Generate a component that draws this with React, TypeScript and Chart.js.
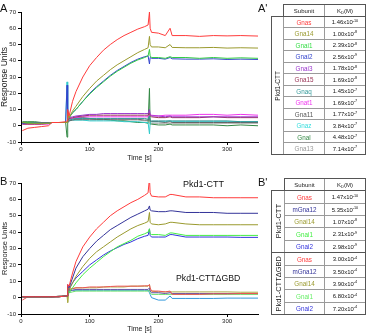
import React, { useEffect, useRef } from "react";
import { Chart, registerables } from "chart.js";
Chart.register(...registerables);

const FONT = "'Liberation Sans', Arial, Helvetica, sans-serif";

// shared time base (s)
const TIME = [2, 10, 20, 30, 40, 45, 55, 65, 67, 68, 70, 75, 80, 90, 100, 110, 120, 130, 140, 150, 160, 170, 180, 185, 187, 188, 190, 200, 210, 217, 220, 240, 260, 280, 300, 320, 345];

// Panel A series (Response Units)
const A_GNAS = [-3, -1.5, -1, -0.5, 0, 2, 2, 2.5, 3, 10, 6, 15, 21, 30, 37, 42, 46.5, 50, 53, 55.5, 57.5, 59.5, 61, 62, 70, 60, 57.5, 57, 55.5, 60, 55.5, 55.5, 55, 55.5, 55.3, 55.5, 55.2];
const A_GNA14 = [2, 1.5, 1.5, 1.5, 1.5, 2, 2, 2, 2, 8, 5, 9, 12, 18, 23, 27.5, 31, 34.5, 37.5, 40, 42.5, 45, 47, 48, 55, 50, 48.5, 48.5, 48, 50, 48.2, 48, 48, 48.2, 47.8, 48, 47.8];
const A_GNAI1 = [2, 2, 1.5, 1.5, 1.5, 2, 2, 2, 2, 6, 5, 8, 10, 15, 19.5, 23.5, 27, 30.5, 33.5, 36, 38.5, 40.5, 42, 43, 47, 43, 42, 42, 41.5, 42.5, 42, 42, 41.5, 42, 41.5, 41.8, 41.5];
const A_GNAI2 = [1.5, 1.5, 1.5, 1.5, 1.5, 2, 2, 2, 25, 7, 5, 8, 10, 15, 20, 24, 27.5, 31, 34, 36.5, 39, 41, 42.5, 43, 38, 42, 41.5, 41.5, 41, 42, 41.2, 41, 41, 41.2, 40.8, 41, 40.8];
const A_GNAI3 = [1.5, 1.5, 1.5, 1.5, 1.5, 2, 2, 2, 2, 4, 5, 5.5, 6, 6.5, 7, 7, 7.5, 7.5, 7.5, 7.5, 7.5, 7.5, 7.5, 7.5, 10, 7, 6, 6, 5.5, 6, 5.5, 5.5, 5.5, 5.5, 5.5, 5.5, 5.5];
const A_GNA15 = [1, 1, 1, 1, 1.5, 2, 2, 2, 2, 3, 4.5, 5, 5.5, 6, 6.5, 6.5, 6.5, 6.5, 6.5, 6.5, 6.5, 6.5, 6.5, 6.5, 8, 6, 5.5, 5, 5, 5.5, 5, 5, 5, 5.5, 5, 5, 5];
const A_GNAT1 = [1, 1, 1, 1, 1, 2, 2, 2, 2, 3, 4, 4.5, 5, 5.5, 5.5, 5.5, 5.5, 5.5, 5.5, 5.5, 5.5, 5.5, 5.5, 5.5, 7, 7, 6.5, 6, 6.5, 6.5, 6.5, 6.5, 7, 7, 6.5, 7, 6.5];
const A_GNAQ = [2, 2, 2, 1.5, 1.5, 2, 2, 2, 2, 3, 3.5, 4, 4.5, 4.5, 4.5, 4.5, 4.5, 4.5, 4.5, 4.5, 4.5, 4.5, 4.5, 4, 6, 3, 3, 3, 3, 3, 3, 3, 3, 3, 3, 2.5, 2.5];
const A_GNA11 = [2, 2, 2, 2, 2, 2, 2, 2, 2, 2, 3, 3.5, 4, 4, 4, 4, 4, 4, 4, 4, 4, 4, 3.5, 3.5, 5, 3, 2.5, 2.5, 2, 2.5, 2, 2, 2, 2, 2, 2, 2];
const A_GNAZ = [1.5, 1.5, 1.5, 1.5, 1.5, 2, 2, 2, 27, 3, 3, 3.5, 3.5, 3.5, 3, 3, 3, 3, 3, 2.5, 2.5, 2.5, 2, 2, -5, 2, 2.5, 2.5, 2.5, 3, 2.5, 2.5, 2.5, 2.5, 2.5, 2.5, 2.5];
const A_GNAL = [2.5, 2.5, 2.5, 2, 2, 2, 2, 2, -7, 5, 4, 4.5, 5, 5, 4.5, 4, 4, 3.5, 3, 3, 2.5, 2, 2, 1.5, 23, 1, 1, 0.5, 0.5, 1, 0.5, 0.5, 0.5, 0.5, 0, 0.5, 0];
const A_GNA13 = [2, 2, 2, 2, 2, 2, 2, 2, 2, 3, 3, 3.5, 3.5, 3.5, 3.5, 3.5, 3.5, 3.5, 3.5, 3.5, 3.5, 3.5, 3, 3, 4, 2, 1.5, 1.5, 1.5, 1.5, 1.5, 1.5, 1.5, 1.5, 1.5, 1.5, 1.5];

// Panel B series: Pkd1-CTT
const B_GNAS = [0.5, 0.5, 0.5, 0.5, 0.5, 0.5, 0.5, 1, 1, 8, 7, 15, 22, 31, 37, 42, 46, 50, 53, 55.5, 58, 60, 62.5, 64, 73, 64, 62, 61.5, 61.5, 63, 63, 61.5, 61.5, 61, 61, 61, 61];
const B_MGNA12 = [0.5, 0.5, 0.5, 0.5, 0.5, 0.5, 0.5, 1, 1, 7, 6, 12, 18, 25, 30, 34.5, 38, 41.5, 44, 46.5, 49, 51, 53, 54, 56, 53.5, 53, 52.5, 52.5, 53, 53, 52, 52, 52, 51.5, 51.5, 51.5];
const B_GNAI14 = [0.5, 0.5, 0.5, 0.5, 0.5, 0.5, 0.5, 1, 1, 6, 5, 9, 13, 19, 24, 28, 31, 34, 37, 39.5, 42, 44, 45.5, 46.5, 52, 46, 45, 44.5, 45, 46, 46, 45, 44.5, 44.5, 44.5, 44.5, 44.5];
const B_GNAI1 = [0.5, 0.5, 0.5, 0.5, 0.5, 0.5, 0.5, 1, 1, 5, 3, 6, 9, 14, 18, 21.5, 25, 28, 31, 33, 35, 37.5, 39, 40, 42, 39, 38.5, 38.5, 38, 39.5, 39.5, 38, 38, 38, 38, 38, 38];
const B_GNAI2 = [0.5, 0.5, 0.5, 0.5, 0.5, 0.5, 0.5, 1, 1, 6, 5, 9, 12, 16, 20, 23, 26, 28.5, 30.5, 32.5, 34, 36, 37.5, 38, 42, 38, 37, 37, 37, 38.5, 38.5, 37, 37, 37, 37, 36.8, 36.8];
// Panel B series: Pkd1-CTTΔGBD
const BD_GNAS = [-1.5, 0.5, 0.5, 0.5, 0.5, 0.5, 0.8, 1, 1, 6, 5, 5.5, 6, 6, 6.5, 6.5, 6.5, 6.8, 7, 7, 7, 7, 7.2, 7.2, 8, 6, 4, 4, 3.5, 4, 2, 2, 2, 2.3, 2.3, 2.5, 2.5];
const BD_MGNA12 = [0.5, 0.5, 0.5, 0.5, 0.5, 0.5, 0.8, 1, 1, 8, 4, 4.5, 5, 5, 5, 5, 5, 5, 5, 5, 5, 5, 5, 5, 6, 4, 3, 3, 2.5, 3, 2.5, 2.5, 2.5, 2.5, 2.5, 2.5, 2.5];
const BD_GNAI14 = [0.5, 0.5, 0.5, 0.5, 0.5, 0.5, 0.8, 1, 1, -3, 5, 5.5, 6, 6, 6, 6, 6.5, 6.5, 6.5, 6.5, 7, 7, 7, 7, 8, 5, 4, 3.5, 3.5, 3.5, 3.5, 3.5, 3.5, 3.5, 3.5, 3.3, 3.3];
const BD_GNAI1 = [0.5, 0.5, 0.5, 0.5, 0.5, 0.5, 0.8, 1, 1, 2, 3, 3.5, 4, 4, 4, 4, 4, 4, 4, 4, 4, 4, 4, 4, 5, 3, 2, 2, 2, 2, 2, 2, 2, 2, 2, 2, 2];
const BD_GNAI2 = [0.5, 0.5, 0.5, 0.5, 0.5, 0.5, 0.8, 1, 1, 5, 4, 4.5, 4.5, 4.5, 4.5, 4.5, 4.5, 4.5, 4.5, 4.5, 4.5, 4.5, 4.5, 4.5, 3, 2, 0, -1.5, -1.5, 1, -0.5, -0.5, -0.5, -0.5, -0.3, -0.3, -0.3];

const X_TICKS = [0, 100, 200, 300];
const Y_TICKS = [-10, 0, 10, 20, 30, 40, 50, 60, 70];

const SERIES_A = [
  { name: "Gnas", color: "#ff3b3b", values: A_GNAS },
  { name: "Gna14", color: "#9a9a2e", values: A_GNA14 },
  { name: "Gnai1", color: "#33cc44", values: A_GNAI1 },
  { name: "Gnai2", color: "#3344cc", values: A_GNAI2 },
  { name: "Gnai3", color: "#9933cc", values: A_GNAI3 },
  { name: "Gna15", color: "#993355", values: A_GNA15 },
  { name: "Gnaq", color: "#339999", values: A_GNAQ },
  { name: "Gnat1", color: "#ee33ee", values: A_GNAT1 },
  { name: "Gna11", color: "#666666", values: A_GNA11 },
  { name: "Gnaz", color: "#33cccc", values: A_GNAZ },
  { name: "Gnal", color: "#338844", values: A_GNAL },
  { name: "Gna13", color: "#aaaaaa", values: A_GNA13 },
];

const SERIES_B = [
  { name: "Gnas", color: "#ff3b3b", values: B_GNAS },
  { name: "mGna12", color: "#333399", values: B_MGNA12 },
  { name: "Gnai14", color: "#9a9a2e", values: B_GNAI14 },
  { name: "Gnai1", color: "#44ee44", values: B_GNAI1 },
  { name: "Gnai2", color: "#3333dd", values: B_GNAI2 },
  { name: "Gnas ΔGBD", color: "#ee5555", values: BD_GNAS },
  { name: "mGna12 ΔGBD", color: "#6655aa", values: BD_MGNA12 },
  { name: "Gnai14 ΔGBD", color: "#aaaa44", values: BD_GNAI14 },
  { name: "Gnai1 ΔGBD", color: "#66dd66", values: BD_GNAI1 },
  { name: "Gnai2 ΔGBD", color: "#3399dd", values: BD_GNAI2 },
];

// tables
const A_TABLE_NAMES = ["Gnas", "Gna14", "Gnai1", "Gnai2", "Gnai3", "Gna15", "Gnaq", "Gnat1", "Gna11", "Gnaz", "Gnal", "Gna13"];
const A_TABLE_COLORS = ["#ff3b3b", "#9a9a2e", "#33dd44", "#3344cc", "#9933cc", "#993355", "#339999", "#ee33ee", "#555555", "#33dddd", "#338844", "#999999"];
const A_TABLE_MANT = ["1.46", "1.00", "2.39", "2.56", "1.78", "1.69", "1.45", "1.69", "1.77", "3.84", "4.48", "7.14"];
const A_TABLE_EXP = ["-10", "-8", "-8", "-9", "-8", "-8", "-7", "-7", "-7", "-7", "-7", "-7"];

const B_TABLE_NAMES = ["Gnas", "mGna12", "Gnai14", "Gnai1", "Gnai2", "Gnas", "mGna12", "Gnai14", "Gnai1", "Gnai2"];
const B_TABLE_COLORS = ["#ff3b3b", "#333399", "#9a9a2e", "#44ee44", "#3333dd", "#ff3b3b", "#333399", "#9a9a2e", "#66ee66", "#3333dd"];
const B_TABLE_MANT = ["1.47", "5.35", "1.07", "2.31", "2.98", "3.00", "3.50", "3.90", "6.80", "7.20"];
const B_TABLE_EXP = ["-10", "-10", "-8", "-9", "-9", "-4", "-4", "-4", "-4", "-4"];

type Series = { name: string; color: string; values: number[] };

function Sensorgram(props: { series: Series[]; left: number; top: number; width: number; height: number; padTop: number; xH: number; yTitleSize: number }) {
  const ref = useRef<HTMLCanvasElement>(null);
  useEffect(() => {
    const chart = new Chart(ref.current as HTMLCanvasElement, {
      type: "line",
      data: {
        datasets: props.series.map((s) => ({
          label: s.name,
          data: TIME.map((t, i) => ({ x: t, y: s.values[i] })),
          borderColor: s.color,
          backgroundColor: s.color,
          borderWidth: 1,
          pointRadius: 0,
          tension: 0,
          fill: false,
        })),
      },
      options: {
        responsive: false,
        animation: false,
        devicePixelRatio: 1,
        layout: { padding: { top: props.padTop, right: 4, left: 0, bottom: 0 } },
        plugins: { legend: { display: false }, tooltip: { enabled: false } },
        scales: {
          x: {
            type: "linear",
            min: 0,
            max: 345,
            afterFit: (s: any) => { s.height = props.xH; },
            afterBuildTicks: (s: any) => { s.ticks = X_TICKS.map((v) => ({ value: v })); },
            ticks: { font: { size: 6, family: FONT }, color: "#222", padding: 1, maxRotation: 0, includeBounds: false },
            grid: { drawOnChartArea: false, color: "#000", tickLength: 3 },
            border: { color: "#000", width: 1 },
            title: { display: true, text: "Time [s]", font: { size: 7, family: FONT }, color: "#222", padding: 0 },
          },
          y: {
            type: "linear",
            min: -10,
            max: 70,
            afterFit: (s: any) => { s.width = 21; },
            afterBuildTicks: (s: any) => { s.ticks = Y_TICKS.map((v) => ({ value: v })); },
            ticks: { font: { size: 6, family: FONT }, color: "#222", padding: 2 },
            grid: { drawOnChartArea: false, color: "#000", tickLength: 3 },
            border: { color: "#000", width: 1 },
            title: { display: true, text: "Response Units", font: { size: props.yTitleSize, family: FONT }, color: "#222", padding: 0 },
          },
        },
      } as any,
    });
    return () => chart.destroy();
  }, []);
  return (
    <canvas
      ref={ref}
      width={props.width}
      height={props.height}
      style={{ position: "absolute", left: props.left, top: props.top, width: props.width, height: props.height }}
    />
  );
}

function Kd(props: { mant: string; exp: string }) {
  return (
    <span>
      {props.mant}x10
      <span style={{ fontSize: 3.8, position: "relative", top: -2.2 }}>{props.exp}</span>
    </span>
  );
}

function KdTable(props: {
  x: number; top: number; bottom: number; gW: number; sW: number; kW: number;
  names: string[]; colors: string[]; mant: string[]; exp: string[];
  groups: { label: string; start: number; count: number; size: number }[];
}) {
  const n = props.names.length + 1;
  const rowH = (props.bottom - props.top) / n;
  const Y = (i: number) => Math.round(props.top + i * rowH);
  const xS = Math.round(props.x + props.gW);
  const xK = Math.round(props.x + props.gW + props.sW);
  const xE = Math.round(props.x + props.gW + props.sW + props.kW);
  const x0 = Math.round(props.x);
  const cell = (l: number, t: number, r: number, b: number, extra: any = {}) => ({
    position: "absolute" as const,
    left: l,
    top: t,
    width: r - l + 1,
    height: b - t + 1,
    border: "1px solid #9a9a9a",
    boxSizing: "border-box" as const,
    display: "flex",
    alignItems: "center",
    justifyContent: "center",
    fontFamily: FONT,
    fontSize: 6.3,
    color: "#222",
    whiteSpace: "nowrap" as const,
    ...extra,
  });
  const els: any[] = [];
  els.push(<div key="hs" style={cell(xS, Y(0), xK, Y(1), { fontSize: 6 })}>Subunit</div>);
  els.push(
    <div key="hk" style={cell(xK, Y(0), xE, Y(1), { fontSize: 6 })}>
      <span>K<span style={{ fontSize: 4, position: "relative", top: 1.5 }}>D</span>(M)</span>
    </div>
  );
  props.names.forEach((nm, i) => {
    els.push(<div key={"n" + i} style={cell(xS, Y(i + 1), xK, Y(i + 2), { color: props.colors[i] })}>{nm}</div>);
    els.push(<div key={"k" + i} style={cell(xK, Y(i + 1), xE, Y(i + 2), { fontSize: 5.9, color: "#111" })}><Kd mant={props.mant[i]} exp={props.exp[i]} /></div>);
  });
  props.groups.forEach((g, gi) => {
    const t = Y(g.start + 1);
    const b = Y(g.start + 1 + g.count);
    els.push(
      <div key={"g" + gi} style={cell(x0, t, xS, b)}>
        <span style={{ writingMode: "vertical-rl", transform: "rotate(180deg)", fontSize: g.size }}>{g.label}</span>
      </div>
    );
    els.push(
      <div key={"f" + gi} style={{ position: "absolute", left: x0, top: t, width: xE - x0 + 1, height: b - t + 1, border: "1px solid #555", boxSizing: "border-box" }} />
    );
  });
  els.push(<div key="fh" style={{ position: "absolute", left: xS, top: Y(0), width: xE - xS + 1, height: Y(1) - Y(0) + 1, border: "1px solid #555", boxSizing: "border-box" }} />);
  return <>{els}</>;
}

const letter = (txt: string, left: number, top: number) => (
  <div style={{ position: "absolute", left, top, fontFamily: FONT, fontSize: 11, lineHeight: "11px", color: "#111" }}>{txt}</div>
);

export default function App() {
  return (
    <div style={{ position: "absolute", left: 0, top: 0, width: 377, height: 333, background: "#fff", overflow: "hidden" }}>
      <Sensorgram series={SERIES_A} left={0} top={0} width={262} height={162} padTop={12} xH={20} yTitleSize={8.5} />
      <Sensorgram series={SERIES_B} left={0} top={165} width={262} height={168} padTop={18} xH={19} yTitleSize={7.5} />
      {letter("A", 0, 3)}
      {letter("B", 0, 176)}
      {letter("A'", 258, 3)}
      {letter("B'", 258, 177)}
      <div style={{ position: "absolute", left: 183, top: 179, fontFamily: FONT, fontSize: 9, color: "#111", whiteSpace: "nowrap" }}>Pkd1-CTT</div>
      <div style={{ position: "absolute", left: 176, top: 273, fontFamily: FONT, fontSize: 8.7, color: "#111", whiteSpace: "nowrap" }}>Pkd1-CTTΔGBD</div>
      <KdTable x={271} top={4} bottom={154} gW={12} sW={41} kW={41}
        names={A_TABLE_NAMES} colors={A_TABLE_COLORS} mant={A_TABLE_MANT} exp={A_TABLE_EXP}
        groups={[{ label: "Pkd1-CTT", start: 0, count: 12, size: 6.5 }]} />
      <KdTable x={271} top={178} bottom={314} gW={13} sW={40} kW={41}
        names={B_TABLE_NAMES} colors={B_TABLE_COLORS} mant={B_TABLE_MANT} exp={B_TABLE_EXP}
        groups={[{ label: "Pkd1-CTT", start: 0, count: 5, size: 7.5 }, { label: "Pkd1-CTTΔGBD", start: 5, count: 5, size: 7.5 }]} />
    </div>
  );
}
